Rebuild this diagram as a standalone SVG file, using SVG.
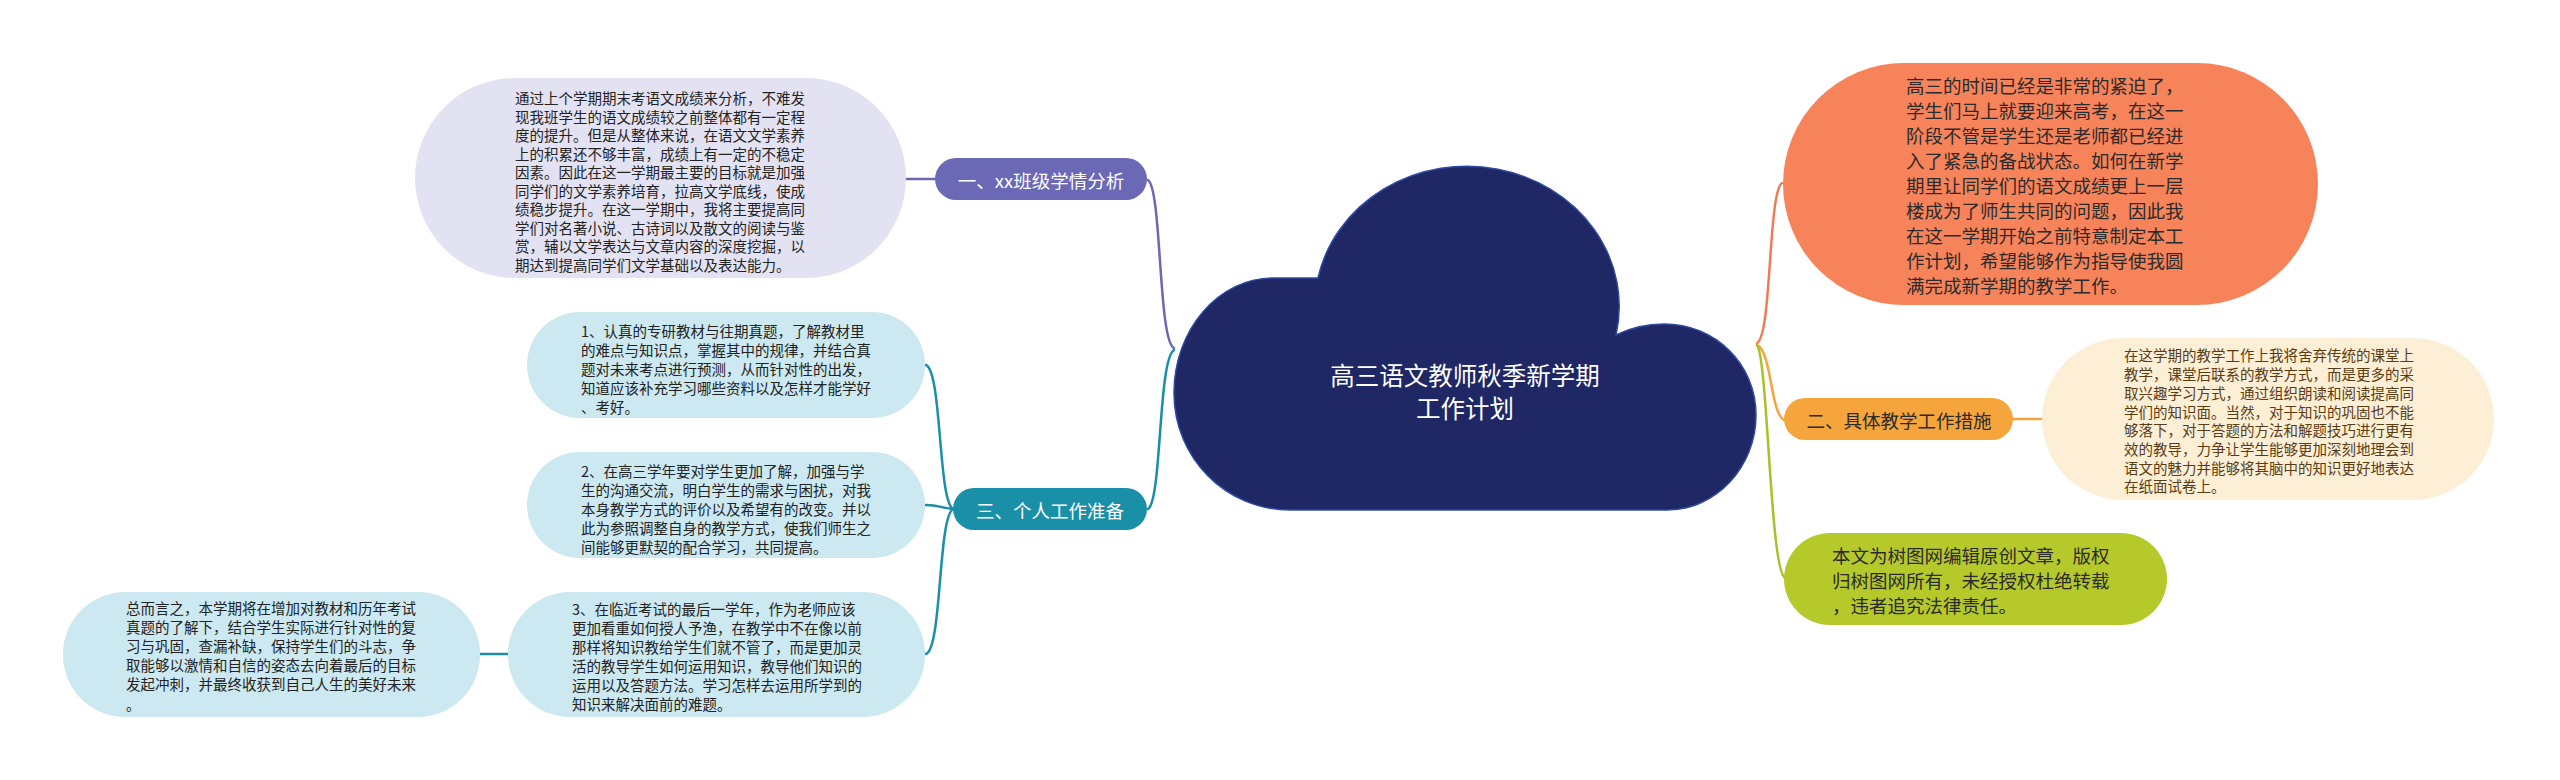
<svg xmlns="http://www.w3.org/2000/svg" width="2560" height="780" viewBox="0 0 2560 780">
<style>
text{font-family:"Noto Sans CJK SC","Noto Sans",sans-serif;dominant-baseline:central}
.d{font-size:14.5px;fill:#222}
.big{font-size:18.5px;fill:#2b2b2b}
.lbl{font-size:18.5px;text-anchor:middle}
.w{fill:#ffffff}
.c{fill:none;stroke-width:2.5;stroke-linecap:round}
</style>
<rect width="2560" height="780" fill="#ffffff"/>
<g id="connectors">
  <path class="c" stroke="#6b68b5" d="M1174 348 C1158 340 1162 190 1148 180"/>
  <path class="c" stroke="#6b68b5" d="M906 179 L935 179"/>
  <path class="c" stroke="#1a8fa8" d="M1174 350 C1158 360 1162 500 1148 509"/>
  <path class="c" stroke="#1a8fa8" d="M953 509 C938 500 942 372 926 365"/>
  <path class="c" stroke="#1a8fa8" d="M953 509 C940 508 940 505 926 505"/>
  <path class="c" stroke="#1a8fa8" d="M953 509 C938 518 942 648 926 654"/>
  <path class="c" stroke="#1a8fa8" d="M480 654 L508 654"/>
  <path class="c" stroke="#f07c55" d="M1757 343 C1772 335 1768 192 1782 183"/>
  <path class="c" stroke="#f5a53c" d="M1757 345 C1772 352 1770 412 1784 420"/>
  <path class="c" stroke="#a9c02a" d="M1757 345 C1768 360 1770 570 1785 578"/>
  <path class="c" stroke="#f5a53c" d="M2013 419 L2042 419"/>
</g>
<g id="center">
  <path d="M1290 510 C1226 510 1174 458 1174 393 C1174 330 1218 278 1273 278 L1318 278 A152 140 0 1 1 1616 335 C1630 328 1647 324 1664 324 C1715 324 1756 364 1756 415 C1756 467 1716 510 1667 510 Z" fill="#1f2764" stroke="#2f4aa0" stroke-width="1.5"/>
  <text class="w" font-size="24.5" text-anchor="middle"><tspan x="1465" y="374">高三语文教师秋季新学期</tspan><tspan x="1465" y="407">工作计划</tspan></text>
</g>
<g id="n1-label">
  <rect x="935" y="158" width="212" height="42" rx="21" fill="#6b68b5"/>
  <text class="lbl w" x="1041" y="180">一、xx班级学情分析</text>
</g>
<g id="n1-detail">
  <rect x="415" y="78" width="491" height="200" rx="100" fill="#e3e2f2"/>
  <text class="d"><tspan x="515" y="97">通过上个学期期末考语文成绩来分析，不难发</tspan><tspan x="515" y="115.5">现我班学生的语文成绩较之前整体都有一定程</tspan><tspan x="515" y="134">度的提升。但是从整体来说，在语文文学素养</tspan><tspan x="515" y="152.5">上的积累还不够丰富，成绩上有一定的不稳定</tspan><tspan x="515" y="171">因素。因此在这一学期最主要的目标就是加强</tspan><tspan x="515" y="189.5">同学们的文学素养培育，拉高文学底线，使成</tspan><tspan x="515" y="208">绩稳步提升。在这一学期中，我将主要提高同</tspan><tspan x="515" y="226.5">学们对名著小说、古诗词以及散文的阅读与鉴</tspan><tspan x="515" y="245">赏，辅以文学表达与文章内容的深度挖掘，以</tspan><tspan x="515" y="263.5">期达到提高同学们文学基础以及表达能力。</tspan></text>
</g>
<g id="n3-label">
  <rect x="953" y="488" width="194" height="42" rx="21" fill="#1a8fa8"/>
  <text class="lbl w" x="1050" y="510">三、个人工作准备</text>
</g>
<g id="n3-1">
  <rect x="527" y="312" width="398" height="106" rx="53" fill="#cce8f0"/>
  <text class="d"><tspan x="581" y="330">1、认真的专研教材与往期真题，了解教材里</tspan><tspan x="581" y="349">的难点与知识点，掌握其中的规律，并结合真</tspan><tspan x="581" y="368">题对未来考点进行预测，从而针对性的出发，</tspan><tspan x="581" y="387">知道应该补充学习哪些资料以及怎样才能学好</tspan><tspan x="581" y="406">、考好。</tspan></text>
</g>
<g id="n3-2">
  <rect x="527" y="452" width="398" height="106" rx="53" fill="#cce8f0"/>
  <text class="d"><tspan x="581" y="470">2、在高三学年要对学生更加了解，加强与学</tspan><tspan x="581" y="489">生的沟通交流，明白学生的需求与困扰，对我</tspan><tspan x="581" y="508">本身教学方式的评价以及希望有的改变。并以</tspan><tspan x="581" y="527">此为参照调整自身的教学方式，使我们师生之</tspan><tspan x="581" y="546">间能够更默契的配合学习，共同提高。</tspan></text>
</g>
<g id="n3-3">
  <rect x="508" y="592" width="417" height="125" rx="62" fill="#cce8f0"/>
  <text class="d"><tspan x="572" y="608">3、在临近考试的最后一学年，作为老师应该</tspan><tspan x="572" y="627">更加看重如何授人予渔，在教学中不在像以前</tspan><tspan x="572" y="646">那样将知识教给学生们就不管了，而是更加灵</tspan><tspan x="572" y="665">活的教导学生如何运用知识，教导他们知识的</tspan><tspan x="572" y="684">运用以及答题方法。学习怎样去运用所学到的</tspan><tspan x="572" y="703">知识来解决面前的难题。</tspan></text>
</g>
<g id="n3-3-1">
  <rect x="63" y="592" width="417" height="125" rx="62" fill="#cce8f0"/>
  <text class="d"><tspan x="126" y="607">总而言之，本学期将在增加对教材和历年考试</tspan><tspan x="126" y="626">真题的了解下，结合学生实际进行针对性的复</tspan><tspan x="126" y="645">习与巩固，查漏补缺，保持学生们的斗志，争</tspan><tspan x="126" y="664">取能够以激情和自信的姿态去向着最后的目标</tspan><tspan x="126" y="683">发起冲刺，并最终收获到自己人生的美好未来</tspan><tspan x="126" y="703">。</tspan></text>
</g>
<g id="n-intro">
  <rect x="1783" y="63" width="535" height="242" rx="121" fill="#f7835a"/>
  <text class="big"><tspan x="1906" y="85">高三的时间已经是非常的紧迫了，</tspan><tspan x="1906" y="110">学生们马上就要迎来高考，在这一</tspan><tspan x="1906" y="135">阶段不管是学生还是老师都已经进</tspan><tspan x="1906" y="160">入了紧急的备战状态。如何在新学</tspan><tspan x="1906" y="185">期里让同学们的语文成绩更上一层</tspan><tspan x="1906" y="210">楼成为了师生共同的问题，因此我</tspan><tspan x="1906" y="235">在这一学期开始之前特意制定本工</tspan><tspan x="1906" y="260">作计划，希望能够作为指导使我圆</tspan><tspan x="1906" y="285">满完成新学期的教学工作。</tspan></text>
</g>
<g id="n2-label">
  <rect x="1784" y="398" width="229" height="42" rx="21" fill="#f5a53c"/>
  <text class="lbl" fill="#2b2b2b" x="1899" y="420">二、具体教学工作措施</text>
</g>
<g id="n2-detail">
  <rect x="2042" y="338" width="452" height="162" rx="81" fill="#fdeed6"/>
  <text class="d" style="fill:#5a3c12"><tspan x="2124" y="354">在这学期的教学工作上我将舍弃传统的课堂上</tspan><tspan x="2124" y="373">教学，课堂后联系的教学方式，而是更多的采</tspan><tspan x="2124" y="392">取兴趣学习方式，通过组织朗读和阅读提高同</tspan><tspan x="2124" y="410.5">学们的知识面。当然，对于知识的巩固也不能</tspan><tspan x="2124" y="429">够落下，对于答题的方法和解题技巧进行更有</tspan><tspan x="2124" y="447.5">效的教导，力争让学生能够更加深刻地理会到</tspan><tspan x="2124" y="466.5">语文的魅力并能够将其脑中的知识更好地表达</tspan><tspan x="2124" y="485">在纸面试卷上。</tspan></text>
</g>
<g id="n-copyright">
  <rect x="1784" y="533" width="383" height="92" rx="46" fill="#b5c92a"/>
  <text class="big"><tspan x="1832" y="555">本文为树图网编辑原创文章，版权</tspan><tspan x="1832" y="580">归树图网所有，未经授权杜绝转载</tspan><tspan x="1832" y="605">，违者追究法律责任。</tspan></text>
</g>
</svg>
